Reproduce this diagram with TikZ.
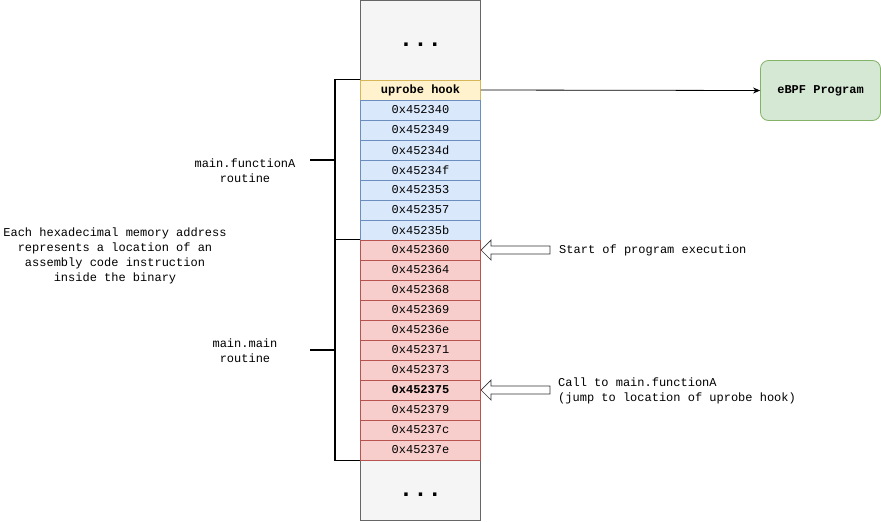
\documentclass[tikz,border=0pt]{standalone}
\usepackage{fontspec}
\setmainfont{Liberation Mono}
\usetikzlibrary{arrows.meta}
\definecolor{grayfill}{HTML}{F5F5F5}
\definecolor{graydraw}{HTML}{666666}
\definecolor{yelfill}{HTML}{FFF2CC}
\definecolor{yeldraw}{HTML}{D6B656}
\definecolor{bluefill}{HTML}{DAE8FC}
\definecolor{bluedraw}{HTML}{6C8EBF}
\definecolor{redfill}{HTML}{F8CECC}
\definecolor{reddraw}{HTML}{B85450}
\definecolor{grnfill}{HTML}{D5E8D4}
\definecolor{grndraw}{HTML}{82B366}
\tikzset{
  cell/.style={rectangle, minimum width=120pt, minimum height=20pt, inner sep=0pt, font=\fontsize{12}{14}\selectfont, line width=0.8pt},
  bluecell/.style={cell, fill=bluefill, draw=bluedraw},
  redcell/.style={cell, fill=redfill, draw=reddraw},
  graybox/.style={rectangle, minimum width=120pt, inner sep=0pt, fill=grayfill, draw=graydraw, line width=0.8pt},
  dots/.style={font=\bfseries\fontsize{24}{26}\selectfont, inner sep=0pt, anchor=base},
  brk/.style={line width=1.5pt, black},
  lbl/.style={font=\fontsize{12}{15}\selectfont, align=center, inner sep=0pt},
  hollow/.style={draw=black!80, fill=white, line width=0.7pt}
}
\begin{document}
\begin{tikzpicture}[x=1pt,y=-1pt]
\useasboundingbox (0,0) rectangle (881,522);
% top and bottom boxes
\node[graybox, minimum height=80pt] (top) at (420.5,40) {};
\node[dots] (topdots) at (420.5,46) {...};
\node[graybox, minimum height=60pt] (bot) at (420.5,490) {};
\node[dots] (botdots) at (420.5,496) {...};
% rows
\node[cell, fill=yelfill, draw=yeldraw, font=\bfseries\fontsize{12}{14}\selectfont] (r0) at (420.5,90) {uprobe hook};
\foreach \a [count=\i] in {0x452340,0x452349,0x45234d,0x45234f,0x452353,0x452357,0x45235b}
  \node[bluecell] (r\i) at (420.5,{90+20*\i}) {\a};
\foreach \a [count=\j from 8] in {0x452360,0x452364,0x452368,0x452369,0x45236e,0x452371,0x452373}
  \node[redcell] (r\j) at (420.5,{90+20*\j}) {\a};
\node[redcell, font=\bfseries\fontsize{12}{14}\selectfont] (r15) at (420.5,390) {0x452375};
\foreach \a [count=\j from 16] in {0x452379,0x45237c,0x45237e}
  \node[redcell] (r\j) at (420.5,{90+20*\j}) {\a};
% brackets
\draw[brk] (r0.north west) -- ++(-25,0) coordinate (b1) |- (r8.north west);
\draw[brk] (r8.north west) -- ++(-25,0) |- (r18.south west);
\coordinate (t1a) at (335,160);
\coordinate (t1b) at (310,160);
\coordinate (t2a) at (335,350);
\coordinate (t2b) at (310,350);
\draw[brk] (t1a) -- (t1b);
\draw[brk] (t2a) -- (t2b);
% labels
\node[lbl] (lfa) at (245,171) {main.functionA\\routine};
\node[lbl] (lmm) at (245,351) {main.main\\routine};
\node[lbl] (lhex) at (115,256) {Each hexadecimal memory address\\represents a location of an\\assembly code instruction\\inside the binary};
% eBPF
\node[rectangle, rounded corners=8pt, minimum width=120pt, minimum height=60pt, fill=grnfill, draw=grndraw, line width=0.8pt, font=\bfseries\fontsize{12}{14}\selectfont] (ebpf) at (820.5,90.5) {eBPF Program};
\draw[-{Stealth[length=7pt,width=6pt]}, line width=0.8pt] (r0.east) -- (ebpf.west);
% hollow arrows
\draw[hollow] (481,250) -- (491,240) -- (491,246) -- (550,246) -- (550,254) -- (491,254) -- (491,260) -- cycle;
\node[lbl, anchor=west] (start) at (559,250) {Start of program execution};
\draw[hollow] (481,390) -- (491,380) -- (491,386) -- (550,386) -- (550,394) -- (491,394) -- (491,400) -- cycle;
\node[lbl, anchor=west, align=left] (call) at (558,390.5) {Call to main.functionA\\(jump to location of uprobe hook)};
\end{tikzpicture}
\end{document}
